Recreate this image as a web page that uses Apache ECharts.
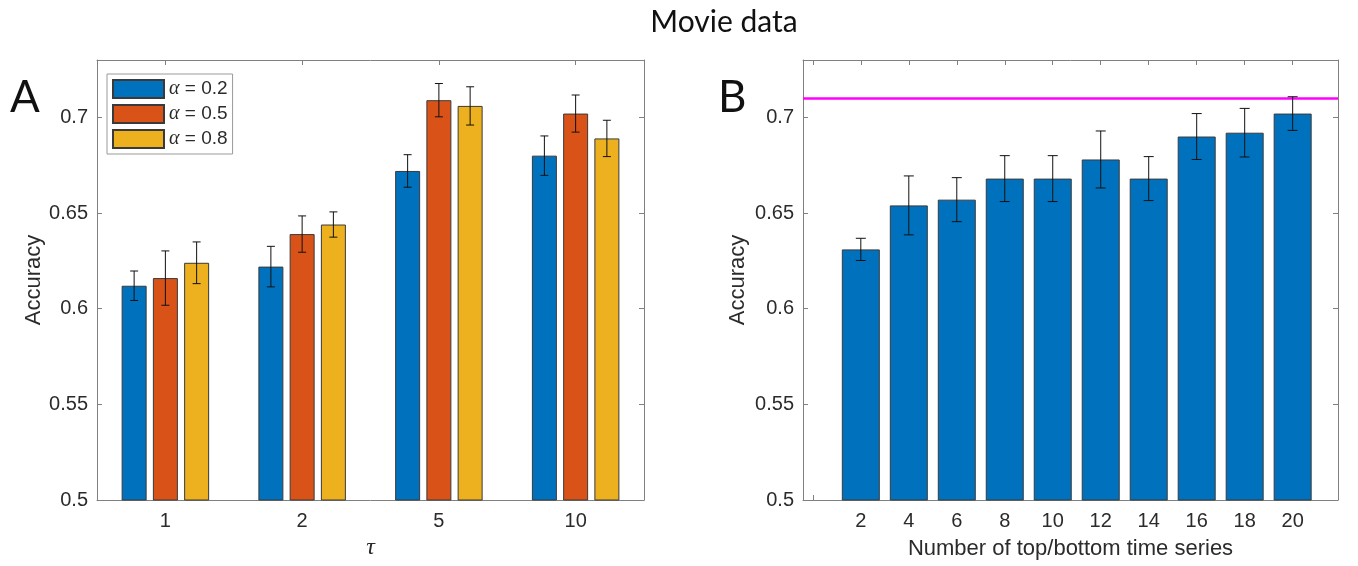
<!DOCTYPE html>
<html>
<head>
<meta charset="utf-8">
<script src="https://cdn.jsdelivr.net/npm/echarts@6/dist/echarts.min.js"></script>
<style>
  html, body { margin: 0; padding: 0; background: #fff; }
  #chart { width: 1358px; height: 566px; }
</style>
</head>
<body>
<div id="chart"></div>
<script>
// ---- Panel A: accuracy per tau, one bar per alpha ----
const tauLabels = ['1', '2', '5', '10'];
const alphaNames = ['α = 0.2', 'α = 0.5', 'α = 0.8'];
const accAlpha02 = [0.612, 0.622, 0.672, 0.680];
const accAlpha05 = [0.616, 0.639, 0.709, 0.702];
const accAlpha08 = [0.624, 0.644, 0.706, 0.689];
const errAlpha02 = [0.0077, 0.0106, 0.0085, 0.0103];
const errAlpha05 = [0.0142, 0.0095, 0.0087, 0.0097];
const errAlpha08 = [0.0109, 0.0066, 0.0100, 0.0095];

// ---- Panel B: accuracy vs number of top/bottom time series ----
const nSeries = [2, 4, 6, 8, 10, 12, 14, 16, 18, 20];
const accB = [0.631, 0.654, 0.657, 0.668, 0.668, 0.678, 0.668, 0.690, 0.692, 0.702];
const errB = [0.0058, 0.0154, 0.0115, 0.0120, 0.0120, 0.0149, 0.0115, 0.0120, 0.0127, 0.0088];
const referenceAcc = 0.7093;

// ---- tick values ----
const yTicks = [0.5, 0.55, 0.6, 0.65, 0.7];
const xTicksB = [0, 2, 4, 6, 8, 10, 12, 14, 16, 18, 20];
const xLabelsB = [2, 4, 6, 8, 10, 12, 14, 16, 18, 20];

// ---- styling ----
const COLORS = ['#0072BD', '#D95319', '#EDB120'];
const AXIS_COLOR = '#808080';
const TEXT_COLOR = '#2b2b2b';
const SANS = 'Liberation Sans';
const SERIF = 'Liberation Serif';
const BAR_W_A = 25;
const BAR_GAP_A = 0.25;
const BAR_W_B = 38;

const chart = echarts.init(document.getElementById('chart'), null, { renderer: 'canvas' });

function errorBar(offsetPx, capHalf) {
  return function (params, api) {
    const x = api.value(0);
    const lo = api.coord([x, api.value(1)]);
    const hi = api.coord([x, api.value(2)]);
    const cx = lo[0] + offsetPx;
    const style = { stroke: '#111', lineWidth: 1 };
    return {
      type: 'group',
      children: [
        { type: 'line', shape: { x1: cx, y1: lo[1], x2: cx, y2: hi[1] }, style },
        { type: 'line', shape: { x1: cx - capHalf, y1: hi[1], x2: cx + capHalf, y2: hi[1] }, style },
        { type: 'line', shape: { x1: cx - capHalf, y1: lo[1], x2: cx + capHalf, y2: lo[1] }, style }
      ]
    };
  };
}

function boxAxis(extra) {
  return Object.assign({
    axisLine: { show: true, onZero: false, lineStyle: { color: AXIS_COLOR, width: 1 } },
    axisTick: { show: true, inside: true, length: 5, lineStyle: { color: AXIS_COLOR } },
    axisLabel: { show: false },
    splitLine: { show: false }
  }, extra);
}

const tickLabel = { show: true, fontSize: 20, fontFamily: SANS, color: TEXT_COLOR };
const axisName = { fontSize: 22, fontFamily: SANS, color: TEXT_COLOR };

function yAxisFor(gridIndex, position, labelled, nameGap) {
  const ax = boxAxis({
    gridIndex, type: 'value', position, min: 0.5, max: 0.73,
    axisTick: { show: true, inside: true, length: 5, customValues: yTicks, lineStyle: { color: AXIS_COLOR } }
  });
  if (labelled) {
    ax.axisLabel = Object.assign({}, tickLabel, { margin: 9, customValues: yTicks, formatter: v => String(v) });
    ax.name = 'Accuracy';
    ax.nameLocation = 'middle';
    ax.nameGap = nameGap;
    ax.nameTextStyle = axisName;
  }
  return ax;
}

const valuesA = [accAlpha02, accAlpha05, accAlpha08];
const errsA = [errAlpha02, errAlpha05, errAlpha08];
const pitchA = BAR_W_A * (1 + BAR_GAP_A);

const series = [];
valuesA.forEach((vals, s) => {
  series.push({
    type: 'bar', name: alphaNames[s], xAxisIndex: 0, yAxisIndex: 0,
    data: vals, barWidth: BAR_W_A, barGap: (BAR_GAP_A * 100) + '%',
    itemStyle: { color: COLORS[s], borderColor: '#3a3a3a', borderWidth: 1 },
    z: 2
  });
});
valuesA.forEach((vals, s) => {
  series.push({
    type: 'custom', xAxisIndex: 0, yAxisIndex: 0, z: 5, silent: true,
    renderItem: errorBar((s - 1) * pitchA, 4),
    data: vals.map((v, i) => [i, v - errsA[s][i], v + errsA[s][i]])
  });
});
series.push({
  type: 'bar', name: 'B', xAxisIndex: 2, yAxisIndex: 2,
  data: nSeries.map((n, i) => [n, accB[i]]), barWidth: BAR_W_B,
  itemStyle: { color: COLORS[0], borderColor: '#3a3a3a', borderWidth: 1 },
  z: 2,
  markLine: {
    silent: true, symbol: 'none', label: { show: false },
    lineStyle: { color: '#FF00FF', width: 2.5, type: 'solid' },
    data: [{ yAxis: referenceAcc }]
  }
});
series.push({
  type: 'custom', xAxisIndex: 2, yAxisIndex: 2, z: 5, silent: true,
  renderItem: errorBar(0, 5),
  data: nSeries.map((n, i) => [n, accB[i] - errB[i], accB[i] + errB[i]])
});

const option = {
  animation: false,
  backgroundColor: '#fff',
  grid: [
    { left: 97, top: 60, width: 547, height: 440, outerBoundsMode: 'none' },
    { left: 803, top: 60, width: 535, height: 440, outerBoundsMode: 'none' }
  ],
  legend: {
    data: alphaNames, orient: 'vertical', left: 107, top: 74,
    padding: [5, 5, 5, 5], itemWidth: 51, itemHeight: 18, itemGap: 5,
    icon: 'rect', borderColor: '#9a9a9a', borderWidth: 1, backgroundColor: '#fff',
    selectedMode: false,
    textStyle: {
      fontSize: 19, fontFamily: SANS, color: TEXT_COLOR, lineHeight: 18,
      rich: { g: { fontSize: 20, fontFamily: SERIF, fontStyle: 'italic', color: TEXT_COLOR, lineHeight: 18 } }
    },
    formatter: name => '{g|' + name.charAt(0) + '}' + name.slice(1)
  },
  xAxis: [
    boxAxis({
      gridIndex: 0, type: 'category', data: tauLabels, position: 'bottom',
      axisTick: { show: true, inside: true, length: 5, alignWithLabel: true, lineStyle: { color: AXIS_COLOR } },
      axisLabel: Object.assign({}, tickLabel, { margin: 11 }),
      name: 'τ', nameLocation: 'middle', nameGap: 36,
      nameTextStyle: { fontSize: 24, fontFamily: SERIF, fontStyle: 'italic', color: TEXT_COLOR }
    }),
    boxAxis({
      gridIndex: 0, type: 'category', data: tauLabels, position: 'top',
      axisTick: { show: true, inside: true, length: 5, alignWithLabel: true, lineStyle: { color: AXIS_COLOR } }
    }),
    boxAxis({
      gridIndex: 1, type: 'value', position: 'bottom', min: -0.41, max: 21.89,
      axisTick: { show: true, inside: true, length: 5, customValues: xTicksB, lineStyle: { color: AXIS_COLOR } },
      axisLabel: Object.assign({}, tickLabel, { margin: 11, customValues: xLabelsB }),
      name: 'Number of top/bottom time series', nameLocation: 'middle', nameGap: 38,
      nameTextStyle: axisName
    }),
    boxAxis({
      gridIndex: 1, type: 'value', position: 'top', min: -0.41, max: 21.89,
      axisTick: { show: true, inside: true, length: 5, customValues: xTicksB, lineStyle: { color: AXIS_COLOR } }
    })
  ],
  yAxis: [
    yAxisFor(0, 'left', true, 50),
    yAxisFor(0, 'right', false),
    yAxisFor(1, 'left', true, 54),
    yAxisFor(1, 'right', false)
  ],
  graphic: [
    { type: 'text', x: 724, y: 22, style: { text: 'Movie data', font: '30px Lato', fill: '#111', textAlign: 'center', textVerticalAlign: 'middle' } },
    { type: 'text', x: 10, y: 98, style: { text: 'A', font: '44px Lato', fill: '#111', textAlign: 'left', textVerticalAlign: 'middle' } },
    { type: 'text', x: 718, y: 98, style: { text: 'B', font: '44px Lato', fill: '#111', textAlign: 'left', textVerticalAlign: 'middle' } }
  ],
  series
};

chart.setOption(option);
</script>
</body>
</html>
